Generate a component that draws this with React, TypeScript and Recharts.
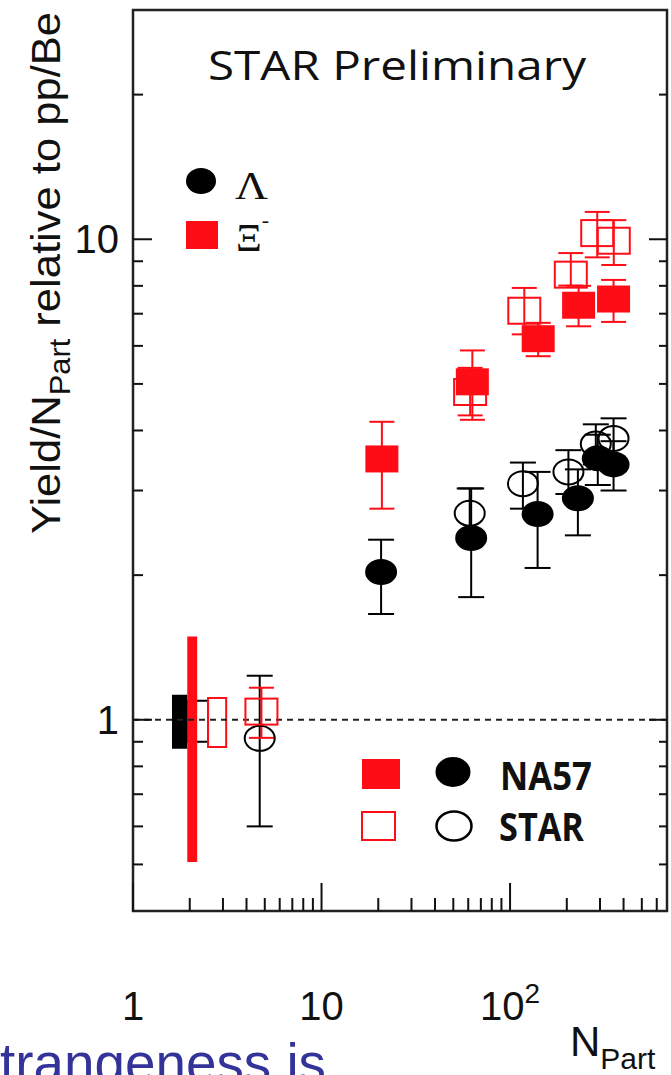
import React from "react";
import { ScatterChart, Scatter, XAxis, YAxis, ErrorBar, ReferenceArea, ReferenceLine } from "recharts";

const RED = "#ff0d17";
const INK = "#111111";

// NA57 Lambda (filled circles)
const na57LambdaN = [20.7, 62.2, 140, 229, 292, 354];
const na57LambdaY = [2.03, 2.39, 2.68, 2.89, 3.5, 3.4];
const na57LambdaLo = [1.66, 1.8, 2.07, 2.42, 3.08, 3.0];
const na57LambdaHi = [2.37, 3.03, 3.28, 3.32, 3.92, 3.8];

// STAR Lambda (open circles)
const starLambdaN = [4.7, 61.1, 117, 204, 285, 354];
const starLambdaY = [0.915, 2.69, 3.1, 3.28, 3.75, 3.85];
const starLambdaLo = [0.6, 2.4, 2.75, 2.95, 3.4, 3.45];
const starLambdaHi = [1.235, 3.03, 3.43, 3.64, 4.12, 4.24];

// NA57 Xi- (filled squares)
const na57XiN = [20.9, 63.1, 141, 231, 354];
const na57XiY = [3.49, 5.05, 6.21, 7.29, 7.51];
const na57XiLo = [2.75, 4.21, 5.71, 6.59, 6.73];
const na57XiHi = [4.17, 5.87, 6.7, 8.0, 8.23];

// STAR Xi- (open squares)
const starXiN = [4.8, 61.4, 119, 210, 290, 355];
const starXiY = [1.04, 4.81, 7.1, 8.44, 10.3, 9.93];
const starXiLo = [0.917, 4.3, 6.34, 8.01, 9.17, 8.84];
const starXiHi = [1.166, 5.4, 7.92, 9.36, 11.4, 10.96];

// normalisation uncertainty boxes at the reference point
const normX1 = [1.61, 1.94, 1.94, 2.5];
const normX2 = [1.94, 2.5, 2.19, 3.12];
const normLo = [0.87, 0.9, 0.506, 0.878];
const normHi = [1.127, 1.095, 1.49, 1.11];

// axes
const xTicks = [1, 2, 3, 4, 5, 6, 7, 8, 9, 10, 20, 30, 40, 50, 60, 70, 80, 90, 100, 200, 300, 400, 500, 600];
const xMajor = [1, 10, 100];
const yTicks = [0.5, 0.6, 0.7, 0.8, 0.9, 1, 2, 3, 4, 5, 6, 7, 8, 9, 10, 20];
const yMajor = [1, 10];

const build = (n: number[], y: number[], lo: number[], hi: number[]) =>
  n.map((v, i) => ({ n: v, y: y[i], err: [y[i] - lo[i], hi[i] - y[i]] }));

const normStyles = [
  { fill: "#000", stroke: "none" },
  { fill: "none", stroke: "#000" },
  { fill: RED, stroke: "none" },
  { fill: "none", stroke: RED },
];

const FilledCircle = (p: any) => <ellipse cx={p.cx} cy={p.cy} rx={16} ry={13} fill="#000" />;
const OpenCircle = (p: any) => (
  <ellipse cx={p.cx} cy={p.cy} rx={15} ry={12.5} fill="none" stroke="#000" strokeWidth={2} />
);
const FilledSquare = (p: any) => <rect x={p.cx - 16.5} y={p.cy - 13.5} width={33} height={27} fill={RED} />;
const OpenSquare = (p: any) => (
  <rect x={p.cx - 16} y={p.cy - 13} width={32} height={26} fill="none" stroke={RED} strokeWidth={2} />
);

const XTick = (props: any) => {
  const { x, y, payload } = props;
  const v = payload.value;
  const major = xMajor.includes(v);
  return (
    <g>
      <line x1={x} y1={y} x2={x} y2={y - (major ? 28 : 13)} stroke={INK} strokeWidth={2} />
      {major && (
        <text x={x} y={y + 109} textAnchor="middle" fontSize={40} fontFamily="Liberation Sans" fill={INK}>
          {v === 100 ? (
            <>
              <tspan>10</tspan>
              <tspan dy={-17} fontSize={28}>2</tspan>
            </>
          ) : (
            String(v)
          )}
        </text>
      )}
    </g>
  );
};

const YTickLeft = (props: any) => {
  const { x, y, payload } = props;
  const major = yMajor.includes(payload.value);
  return (
    <g>
      <line x1={x} y1={y} x2={x + (major ? 19 : 10)} y2={y} stroke={INK} strokeWidth={2} />
      {major && (
        <text x={x - 14} y={y + 14} textAnchor="end" fontSize={40} fontFamily="Liberation Sans" fill={INK}>
          {String(payload.value)}
        </text>
      )}
    </g>
  );
};

const YTickRight = (props: any) => {
  const { x, y, payload } = props;
  const major = yMajor.includes(payload.value);
  return <line x1={x} y1={y} x2={x - (major ? 18 : 8)} y2={y} stroke={INK} strokeWidth={2} />;
};

export default function App() {
  const W = 671;
  const H = 1075;
  return (
    <div style={{ position: "absolute", left: 0, top: 0, width: W, height: H, background: "#fff" }}>
      <ScatterChart width={W} height={H} margin={{ top: 10, right: 3, bottom: 163, left: 132 }}>
        <XAxis
          type="number"
          dataKey="n"
          scale="log"
          domain={[1, 680]}
          allowDataOverflow
          ticks={xTicks}
          interval={0}
          height={1}
          tickSize={0}
          tickMargin={0}
          axisLine={false}
          tick={<XTick />}
        />
        <YAxis
          type="number"
          dataKey="y"
          scale="log"
          domain={[0.4, 30]}
          allowDataOverflow
          ticks={yTicks}
          interval={0}
          width={1}
          tickSize={0}
          tickMargin={0}
          axisLine={false}
          tick={<YTickLeft />}
        />
        <YAxis
          yAxisId="r"
          orientation="right"
          type="number"
          scale="log"
          domain={[0.4, 30]}
          allowDataOverflow
          ticks={yTicks}
          interval={0}
          width={1}
          tickSize={0}
          tickMargin={0}
          axisLine={false}
          tick={<YTickRight />}
        />
        <ReferenceLine y={1} stroke="#222" strokeWidth={2} strokeDasharray="6 5" />
        {normX1.map((x1, i) => (
          <ReferenceArea
            key={i}
            x1={x1}
            x2={normX2[i]}
            y1={normLo[i]}
            y2={normHi[i]}
            fill={normStyles[i].fill}
            fillOpacity={1}
            stroke={normStyles[i].stroke}
            strokeWidth={2}
          />
        ))}
        <Scatter data={build(starLambdaN, starLambdaY, starLambdaLo, starLambdaHi)} shape={OpenCircle} isAnimationActive={false}>
          <ErrorBar dataKey="err" direction="y" width={13} stroke="#000" strokeWidth={2} />
        </Scatter>
        <Scatter data={build(starXiN, starXiY, starXiLo, starXiHi)} shape={OpenSquare} isAnimationActive={false}>
          <ErrorBar dataKey="err" direction="y" width={12.5} stroke={RED} strokeWidth={2} />
        </Scatter>
        <Scatter data={build(na57LambdaN, na57LambdaY, na57LambdaLo, na57LambdaHi)} shape={FilledCircle} isAnimationActive={false}>
          <ErrorBar dataKey="err" direction="y" width={13} stroke="#000" strokeWidth={2} />
        </Scatter>
        <Scatter data={build(na57XiN, na57XiY, na57XiLo, na57XiHi)} shape={FilledSquare} isAnimationActive={false}>
          <ErrorBar dataKey="err" direction="y" width={12.5} stroke={RED} strokeWidth={2} />
        </Scatter>
        <ReferenceArea x1={1} x2={680} y1={0.4} y2={30} fill="none" stroke="#222" strokeWidth={2.5} />
      </ScatterChart>

      <svg width={W} height={H} style={{ position: "absolute", left: 0, top: 0, pointerEvents: "none" }}>
        <text x={397} y={80} textAnchor="middle" fontSize={40} fontFamily="Open Sans" fill={INK} textLength={378} lengthAdjust="spacingAndGlyphs">
          STAR Preliminary
        </text>

        <ellipse cx={201} cy={181} rx={15} ry={13} fill="#000" />
        <text x={235} y={199} fontSize={40} fontFamily="Liberation Serif" fill={INK} textLength={33} lengthAdjust="spacingAndGlyphs">
          Λ
        </text>
        <rect x={186} y={221} width={32} height={28} fill={RED} />
        <text x={236} y={251} fontSize={40} fontFamily="Liberation Serif" fill={INK}>
          Ξ<tspan dy={-24} fontSize={22}>-</tspan>
        </text>

        <rect x={362} y={759} width={38} height={30} fill={RED} />
        <ellipse cx={453} cy={772} rx={17.5} ry={15} fill="#000" />
        <text x={500} y={790} fontSize={40} fontWeight={700} fontFamily="Open Sans" fill={INK} textLength={92} lengthAdjust="spacingAndGlyphs">
          NA57
        </text>
        <rect x={362} y={812} width={33} height={28} fill="none" stroke={RED} strokeWidth={2} />
        <ellipse cx={454} cy={826} rx={17.5} ry={14.5} fill="none" stroke="#000" strokeWidth={2.5} />
        <text x={499} y={841} fontSize={40} fontWeight={700} fontFamily="Open Sans" fill={INK} textLength={85} lengthAdjust="spacingAndGlyphs">
          STAR
        </text>

        <text
          transform="translate(60, 12) rotate(-90)"
          textAnchor="end"
          fontSize={41}
          fontFamily="Liberation Sans"
          fill={INK}
          textLength={522}
          lengthAdjust="spacingAndGlyphs"
        >
          Yield/N<tspan dy={10} fontSize={29}>Part</tspan>
          <tspan dy={-10}> relative to pp/Be</tspan>
        </text>

        <text x={570} y={1056} fontSize={42} fontFamily="Liberation Sans" fill={INK}>
          N<tspan dy={13} fontSize={30}>Part</tspan>
        </text>

        <text x={0} y={1082} fontSize={56} fontFamily="Liberation Sans" fill="#333399" textLength={326} lengthAdjust="spacingAndGlyphs">
          trangeness is
        </text>
      </svg>
    </div>
  );
}
